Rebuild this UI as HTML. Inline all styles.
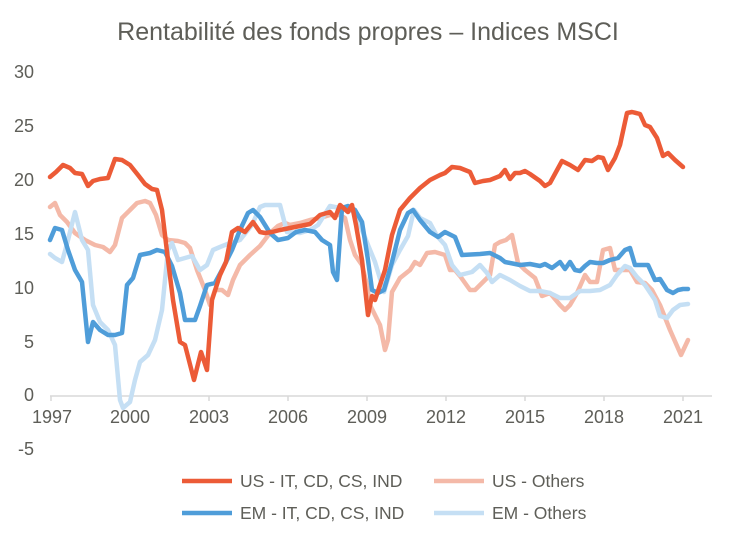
<!DOCTYPE html>
<html><head><style>body{margin:0;background:#fff}</style></head><body>
<svg width="735" height="538" xmlns="http://www.w3.org/2000/svg" font-family="Liberation Sans, sans-serif" fill="#5e5e58">
<text x="368" y="40" font-size="25" text-anchor="middle">Rentabilité des fonds propres – Indices MSCI</text>
<g font-size="18" text-anchor="end">
<text x="34" y="78">30</text><text x="34" y="132">25</text><text x="34" y="186">20</text><text x="34" y="240">15</text><text x="34" y="294">10</text><text x="34" y="348">5</text><text x="34" y="401">0</text><text x="34" y="455">-5</text>
</g>
<line x1="50" y1="396" x2="712" y2="396" stroke="#d9d9d9" stroke-width="1.5"/>
<g stroke="#d9d9d9" stroke-width="1.5">
<line x1="51" y1="396" x2="51" y2="401"/><line x1="130" y1="396" x2="130" y2="401"/><line x1="209" y1="396" x2="209" y2="401"/><line x1="288" y1="396" x2="288" y2="401"/><line x1="367" y1="396" x2="367" y2="401"/><line x1="446" y1="396" x2="446" y2="401"/><line x1="525" y1="396" x2="525" y2="401"/><line x1="604" y1="396" x2="604" y2="401"/><line x1="683" y1="396" x2="683" y2="401"/>
</g>
<g font-size="18" text-anchor="middle">
<text x="52" y="423">1997</text><text x="130" y="423">2000</text><text x="209" y="423">2003</text><text x="288" y="423">2006</text><text x="367" y="423">2009</text><text x="446" y="423">2012</text><text x="525" y="423">2015</text><text x="604" y="423">2018</text><text x="683" y="423">2021</text>
</g>
<g fill="none" stroke-width="4.5" stroke-linejoin="round" stroke-linecap="round">
<polyline stroke="#f4b9a8" points="50,207 55,203 60,215 67,222 75,233 85,240 95,245 103,247 110,252 115,245 122,218 130,210 137,203 145,201 150,203 156,215 162,235 168,240 178,241 185,243 190,248 197,270 205,290 210,305 215,290 222,290 228,295 233,280 240,265 250,255 260,246 270,233 278,226 285,223 290,225 300,223 310,220 320,218 330,215 340,215 345,218 350,240 355,255 362,265 367,285 370,305 380,325 385,350 388,340 392,292 400,278 410,270 415,262 420,265 427,253 435,252 445,255 450,270 455,270 460,276 470,290 475,290 480,285 490,275 495,245 500,242 506,240 512,235 518,263 525,270 535,278 542,296 550,293 560,305 565,310 570,305 577,293 585,275 590,282 597,282 603,250 610,248 615,270 625,270 630,270 637,282 645,283 652,290 660,305 670,330 681,355 688,340"/>
<polyline stroke="#c5dff4" points="50,254 55,258 62,262 68,240 75,212 82,240 88,250 93,305 100,322 108,330 115,345 120,400 123,408 130,402 135,380 140,362 148,355 155,340 162,310 168,250 172,243 178,260 185,258 192,256 200,270 207,265 213,250 220,247 230,243 240,240 252,225 260,207 265,205 280,205 287,232 300,233 310,230 318,225 330,206 340,208 355,212 362,230 368,245 375,262 384,292 392,265 400,250 408,236 414,210 420,218 430,223 437,236 445,245 452,265 460,275 472,272 480,265 487,273 492,282 500,275 510,280 520,286 530,291 540,291 550,293 560,298 570,298 580,291 590,291 600,290 610,285 617,275 625,266 630,268 637,277 645,285 655,300 660,316 667,318 673,310 680,305 688,304"/>
<polyline stroke="#4f9dd9" points="50,240 55,228 62,230 68,250 75,270 82,282 88,342 93,322 100,330 108,335 115,335 122,333 127,285 133,278 140,255 150,253 157,250 165,252 172,266 180,293 185,320 195,320 200,306 207,285 215,283 222,270 232,250 240,230 248,213 253,210 260,217 270,233 278,240 288,238 296,232 305,230 315,232 322,240 330,245 333,272 337,280 342,208 348,206 355,210 362,222 368,260 372,290 378,293 384,290 392,262 400,230 408,213 413,210 420,220 430,232 438,237 445,232 455,237 462,255 480,254 490,253 500,258 505,262 520,265 530,264 540,266 545,264 552,268 560,262 565,269 570,262 575,270 580,271 585,266 590,262 597,263 603,263 610,260 618,258 625,250 630,248 635,265 640,265 648,265 655,280 660,279 667,290 673,293 678,290 683,289 688,289"/>
<polyline stroke="#ec5b37" points="50,177 56,172 63,165 70,168 75,173 82,174 88,186 93,181 100,179 108,178 115,159 122,160 130,165 138,175 145,184 152,189 157,190 162,210 168,260 173,300 180,342 185,345 194,380 201,352 207,370 212,300 220,275 226,262 232,232 238,228 245,232 253,222 260,232 265,233 272,232 280,230 290,228 300,226 310,224 320,215 330,212 335,218 340,205 348,212 352,205 356,225 362,260 368,315 372,296 375,300 385,270 392,235 400,210 410,198 420,188 430,180 440,175 445,173 452,167 460,168 470,172 475,183 483,181 490,180 495,178 500,176 505,170 510,179 515,173 520,173 525,171 530,174 540,181 545,186 550,183 556,172 562,161 570,165 578,170 585,160 592,161 598,157 603,158 608,170 615,158 620,145 627,113 632,112 640,114 645,125 650,127 657,138 663,156 668,153 675,160 683,167"/>
</g>
<g stroke-width="4.5">
<line x1="182" y1="481" x2="232" y2="481" stroke="#ec5b37"/>
<line x1="434" y1="481" x2="484" y2="481" stroke="#f4b9a8"/>
<line x1="182" y1="513" x2="232" y2="513" stroke="#4f9dd9"/>
<line x1="434" y1="513" x2="484" y2="513" stroke="#c5dff4"/>
</g>
<g font-size="17.5">
<text x="240" y="487">US - IT, CD, CS, IND</text>
<text x="492" y="487">US - Others</text>
<text x="240" y="519">EM - IT, CD, CS, IND</text>
<text x="492" y="519">EM - Others</text>
</g>
</svg>
</body></html>
